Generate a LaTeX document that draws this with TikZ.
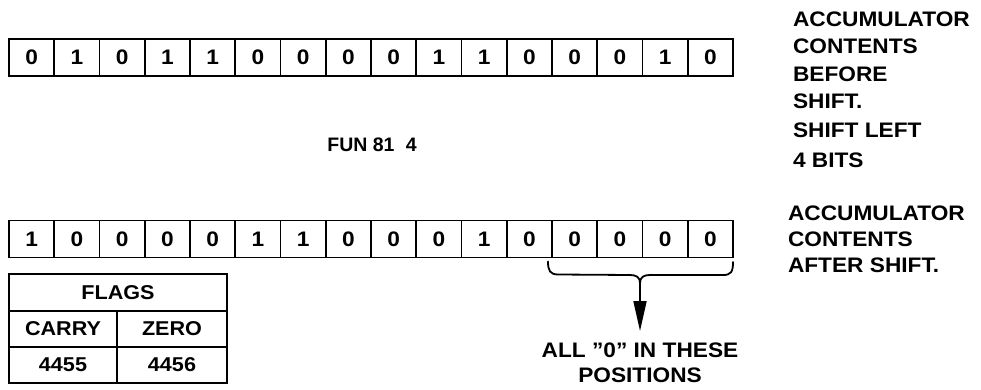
\documentclass[tikz,border=0pt]{standalone}
\usepackage{fontspec}
\setmainfont{Liberation Sans}[FakeStretch=1.08]
\newfontfamily\funfont{Liberation Sans}
\usetikzlibrary{arrows.meta}
\begin{document}
\begin{tikzpicture}[x=1pt,y=-1pt,
  cellbox/.style={draw, line width=1.8pt, minimum width=45.25pt, minimum height=37pt,
    inner sep=0pt, outer sep=0pt, font=\fontsize{21}{24}\selectfont\bfseries},
  flagbox/.style={draw, line width=1.8pt, inner sep=0pt, outer sep=0pt,
    font=\fontsize{20}{24}\selectfont\bfseries},
  sidelbl/.style={anchor=north west, align=left, inner sep=0pt, outer sep=0pt,
    font=\fontsize{21}{27.3}\selectfont\bfseries},
  link/.style={line width=1.8pt}
]
\useasboundingbox (0,0) rectangle (981,390);
% top register
\foreach \b [count=\i] in {0,1,0,1,1,0,0,0,0,1,1,0,0,0,1,0}{
  \node[cellbox] (t\i) at ({9+45.25*(\i-0.5)},57.5) {\b};
}
% bottom register
\foreach \b [count=\i] in {1,0,0,0,0,1,1,0,0,0,1,0,0,0,0,0}{
  \node[cellbox] (b\i) at ({9+45.25*(\i-0.5)},239) {\b};
}
% side labels
\node[sidelbl] (before) at (793,12) {ACCUMULATOR\\CONTENTS\\BEFORE\\SHIFT.};
\node[sidelbl, font=\fontsize{21}{30}\selectfont\bfseries] (shl) at (793,123) {SHIFT LEFT\\4 BITS};
\node[sidelbl, font=\fontsize{21}{26}\selectfont\bfseries] (after) at (788,206) {ACCUMULATOR\\CONTENTS\\AFTER SHIFT.};
% function
\node[inner sep=0pt, font=\funfont\fontsize{19.5}{22}\selectfont\bfseries] (fun) at (372,145) {FUN 81\hspace{0.3em} 4};
% flags table
\node[flagbox, minimum width=218pt, minimum height=37pt] (flags) at (118,292.5) {FLAGS};
\node[flagbox, minimum width=108pt, minimum height=36pt] (carry) at (63,329) {CARRY};
\node[flagbox, minimum width=110pt, minimum height=36pt] (zero) at (172,329) {ZERO};
\node[flagbox, minimum width=108pt, minimum height=36pt] (c4455) at (63,365) {4455};
\node[flagbox, minimum width=110pt, minimum height=36pt] (z4456) at (172,365) {4456};
% brace
\coordinate (tip) at (640,283);
\draw[link, line cap=round] (b13.south west) ++(-4,4)
  .. controls +(0,9) and +(-8,0) .. ++(10,13) -- (630,275)
  .. controls (636,275) and (640,277) .. (tip)
  .. controls (640,277) and (644,275) .. (650,275) -- (723,275)
  .. controls (731,275) and (733,272) .. (733,262);
% label and arrow
\node[inner sep=0pt, anchor=north, align=center,
  font=\fontsize{21}{25}\selectfont\bfseries] (allz) at (640,343) {ALL "0" IN THESE\\POSITIONS};
\draw[link, -{Triangle[length=30pt,width=13pt]}, shorten >=12pt] (tip) -- (allz.north);
\end{tikzpicture}
\end{document}
